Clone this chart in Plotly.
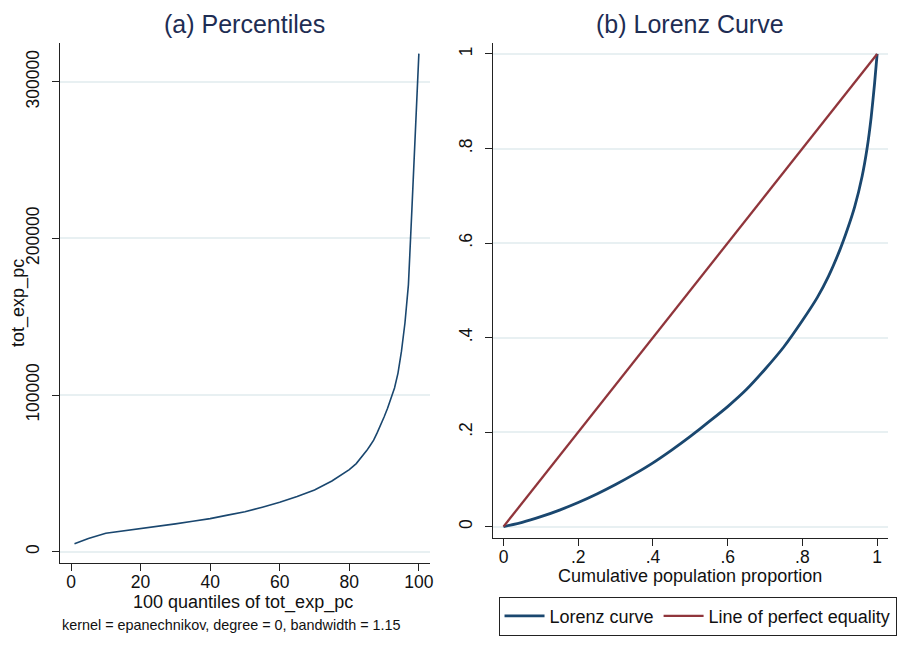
import plotly.graph_objects as go

# ---- Data ----
quantiles = [1, 3, 5, 10, 15, 20, 25, 30, 35, 40, 45, 50, 55, 60, 65, 70, 75, 80,
             82, 84, 85, 86, 87, 88, 89, 90, 91, 92, 93, 94, 95, 96, 97, 98, 99, 100]
tot_exp_pc = [5000, 6900, 8400, 11700, 13200, 14300, 16000, 17700, 19400, 21100,
              23300, 25500, 28400, 31500, 35200, 39400, 45100, 52400,
              56200, 61500, 64500, 67800, 71200, 75800, 80500, 86000, 91500, 97500,
              104500, 114000, 128000, 146000, 170500, 218700, 265400, 318000]

cum_pop = [0, 0.05, 0.1, 0.15, 0.2, 0.25, 0.3, 0.35, 0.4, 0.45, 0.5, 0.55, 0.6,
           0.65, 0.7, 0.75, 0.8, 0.84, 0.87, 0.9, 0.92, 0.94, 0.96, 0.973,
           0.984, 0.993, 1.0]
lorenz = [0, 0.009, 0.021, 0.035, 0.051, 0.069, 0.089, 0.111, 0.135, 0.162, 0.191,
          0.222, 0.254, 0.29, 0.333, 0.38, 0.436, 0.485, 0.53, 0.585, 0.628, 0.677,
          0.742, 0.80, 0.866, 0.9365, 1.0]
equality_x = [0, 1]
equality_y = [0, 1]

left_yticks = [0, 100000, 200000, 300000]
left_yticktext = ["0", "100000", "200000", "300000"]
left_xticks = [0, 20, 40, 60, 80, 100]
right_ticks = [0, 0.2, 0.4, 0.6, 0.8, 1]
right_ticktext = ["0", ".2", ".4", ".6", ".8", "1"]

NAVY = "#1a476f"
MAROON = "#90353b"
GRID = "#e8f0f2"
FONT = "Arial"
W, H = 921, 646

fig = go.Figure()
fig.add_trace(go.Scatter(x=quantiles, y=tot_exp_pc, mode="lines",
                         line=dict(color=NAVY, width=1.6), showlegend=False,
                         xaxis="x", yaxis="y"))
fig.add_trace(go.Scatter(x=cum_pop, y=lorenz, mode="lines", name="Lorenz curve",
                         line=dict(color=NAVY, width=2.8, shape="spline", smoothing=0.5),
                         xaxis="x2", yaxis="y2"))
fig.add_trace(go.Scatter(x=equality_x, y=equality_y, mode="lines",
                         name="Line of perfect equality",
                         line=dict(color=MAROON, width=2.3), xaxis="x2", yaxis="y2"))

def px_x(p):
    return p / W

def px_y(p):
    return 1 - p / H

axis_common = dict(showline=True, linecolor="#222222", linewidth=1, ticks="outside",
                   ticklen=7, tickcolor="#222222", tickfont=dict(size=17.5, color="#111111"),
                   zeroline=False)

fig.update_layout(
    width=W, height=H,
    margin=dict(l=0, r=0, t=0, b=0),
    paper_bgcolor="white", plot_bgcolor="white",
    font=dict(family=FONT, color="#111111"),
    xaxis=dict(domain=[px_x(60), px_x(431.7)], range=[-3.24, 103.15],
               tickvals=left_xticks, showgrid=False, anchor="y",
               ticklabelstandoff=-4, **axis_common),
    yaxis=dict(domain=[px_y(563.3), px_y(43.3)], range=[-7450, 324600],
               tickvals=left_yticks, ticktext=left_yticktext, tickangle=-90,
               showgrid=True, gridcolor=GRID,
               gridwidth=1.5, anchor="x", ticklabelstandoff=6, **axis_common),
    xaxis2=dict(domain=[px_x(494.7), px_x(892.3)], range=[-0.0293, 1.0302],
                tickvals=right_ticks, ticktext=right_ticktext, showgrid=False,
                anchor="y2", ticklabelstandoff=-4, **axis_common),
    yaxis2=dict(domain=[px_y(538.3), px_y(43.3)], range=[-0.0247, 1.0226],
                tickvals=right_ticks, ticktext=right_ticktext, tickangle=-90,
                showgrid=True, gridcolor=GRID, gridwidth=1.5, anchor="x2",
                ticklabelstandoff=6, **axis_common),
    legend=dict(orientation="h", x=px_x(500.7), y=px_y(596.7), xanchor="left",
                yanchor="top", bordercolor="#222222", borderwidth=1,
                font=dict(size=18, color="#111111"), bgcolor="white",
                itemwidth=40, tracegroupgap=0),
    annotations=[
        dict(text="(a) Percentiles", x=px_x(246), y=px_y(24), xref="paper", yref="paper",
             showarrow=False, xanchor="center", yanchor="middle",
             font=dict(size=25, color="#1e2d53")),
        dict(text="(b) Lorenz Curve", x=px_x(693.5), y=px_y(24), xref="paper", yref="paper",
             showarrow=False, xanchor="center", yanchor="middle",
             font=dict(size=25, color="#1e2d53")),
        dict(text="100 quantiles of tot_exp_pc", x=px_x(244), y=px_y(602.5), xref="paper",
             yref="paper", showarrow=False, xanchor="center", yanchor="middle",
             font=dict(size=18, color="#111111")),
        dict(text="Cumulative population proportion", x=px_x(693), y=px_y(576),
             xref="paper", yref="paper", showarrow=False, xanchor="center",
             yanchor="middle", font=dict(size=18, color="#111111")),
        dict(text="tot_exp_pc", x=px_x(18), y=px_y(303), xref="paper", yref="paper",
             showarrow=False, xanchor="center", yanchor="middle", textangle=-90,
             font=dict(size=18, color="#111111")),
        dict(text="kernel = epanechnikov, degree = 0, bandwidth = 1.15", x=px_x(233),
             y=px_y(624.5), xref="paper", yref="paper", showarrow=False,
             xanchor="center", yanchor="middle", font=dict(size=14.4, color="#111111")),
    ],
)

fig.write_html("out.html")
